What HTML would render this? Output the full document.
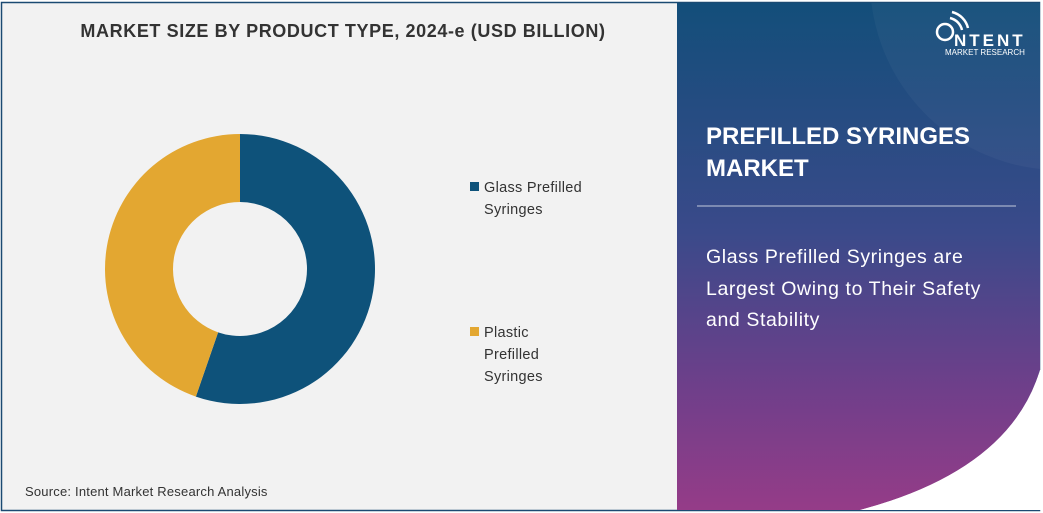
<!DOCTYPE html>
<html><head><meta charset="utf-8"><style>
body{margin:0;width:1043px;height:513px;overflow:hidden;background:#fff;font-family:"Liberation Sans",sans-serif}
svg{display:block}
</style></head><body>
<svg width="1043" height="513" viewBox="0 0 1043 513">
<defs>
<linearGradient id="pg" x1="0" y1="0" x2="0" y2="1">
<stop offset="0" stop-color="#134e7a"/><stop offset="0.45" stop-color="#3a4a8a"/><stop offset="0.75" stop-color="#6e3f8a"/><stop offset="1" stop-color="#963c88"/>
</linearGradient>
<clipPath id="pc"><path d="M677 3 H1040 V370 Q1010 470 860 510 H677 Z"/></clipPath>
</defs>
<rect x="1.5" y="2.5" width="1038" height="508" fill="#f2f2f2" stroke="#1b4a72" stroke-width="1.5"/>
<g clip-path="url(#pc)">
<rect x="677" y="3" width="365" height="510" fill="url(#pg)"/>
<circle cx="1060" cy="-20" r="190" fill="#ffffff" opacity="0.035"/>
</g>
<path d="M1040 370 Q1010 470 860 510 H1042 V370Z" fill="#fff"/>
<text x="343" y="37" text-anchor="middle" font-size="18" font-weight="bold" fill="#333" letter-spacing="0.6">MARKET SIZE BY PRODUCT TYPE, 2024-e (USD BILLION)</text>
<g id="donut"></g>
<g>
<rect x="470" y="182" width="9" height="9" fill="#0e527a"/>
<text font-size="14.5" fill="#333" letter-spacing="0.3"><tspan x="484" y="192">Glass Prefilled</tspan><tspan x="484" y="214">Syringes</tspan></text>
<rect x="470" y="327" width="9" height="9" fill="#e3a731"/>
<text font-size="14.5" fill="#333" letter-spacing="0.3"><tspan x="484" y="337">Plastic</tspan><tspan x="484" y="359">Prefilled</tspan><tspan x="484" y="381">Syringes</tspan></text>
</g>
<text x="25" y="496" font-size="13" fill="#333" letter-spacing="0.2">Source: Intent Market Research Analysis</text>
<g>
<circle cx="945" cy="32" r="8" fill="none" stroke="#fff" stroke-width="2.5"/>
<path d="M950 18 A16 16 0 0 1 962 30" fill="none" stroke="#fff" stroke-width="2.5"/>
<path d="M952 12 A22 22 0 0 1 968 28" fill="none" stroke="#fff" stroke-width="2.5"/>
<text x="954" y="46" font-size="17" font-weight="bold" fill="#fff" letter-spacing="3">NTENT</text>
<text x="945" y="55" font-size="8" fill="#fff">MARKET RESEARCH</text>
</g>
<text font-size="24" font-weight="bold" fill="#fff"><tspan x="706" y="144">PREFILLED SYRINGES</tspan><tspan x="706" y="176">MARKET</tspan></text>
<line x1="697" y1="206" x2="1016" y2="206" stroke="#ffffff" stroke-opacity="0.7" stroke-width="1"/>
<text font-size="19.5" fill="#fff" letter-spacing="0.6"><tspan x="706" y="263">Glass Prefilled Syringes are</tspan><tspan x="706" y="295">Largest Owing to Their Safety</tspan><tspan x="706" y="326">and Stability</tspan></text>
</svg>
<script>
const categories=["Glass Prefilled Syringes","Plastic Prefilled Syringes"];
const values=[55.3,44.7];
const colors=["#0e527a","#e3a731"];
const g=document.getElementById('donut');
const cx=240,cy=269,R=135,r=67;
const total=values.reduce((a,b)=>a+b,0);
let a0=0;
values.forEach((v,i)=>{
 const a1=a0+v/total*2*Math.PI;
 const p=(ang,rad)=>[cx+rad*Math.sin(ang),cy-rad*Math.cos(ang)];
 const large=(a1-a0)>Math.PI?1:0;
 const [x0,y0]=p(a0,R),[x1,y1]=p(a1,R),[x2,y2]=p(a1,r),[x3,y3]=p(a0,r);
 const path=document.createElementNS('http://www.w3.org/2000/svg','path');
 path.setAttribute('d',`M${x0} ${y0} A${R} ${R} 0 ${large} 1 ${x1} ${y1} L${x2} ${y2} A${r} ${r} 0 ${large} 0 ${x3} ${y3} Z`);
 path.setAttribute('fill',colors[i]);
 
 
 g.appendChild(path);
 a0=a1;
});
</script>
</body></html>
